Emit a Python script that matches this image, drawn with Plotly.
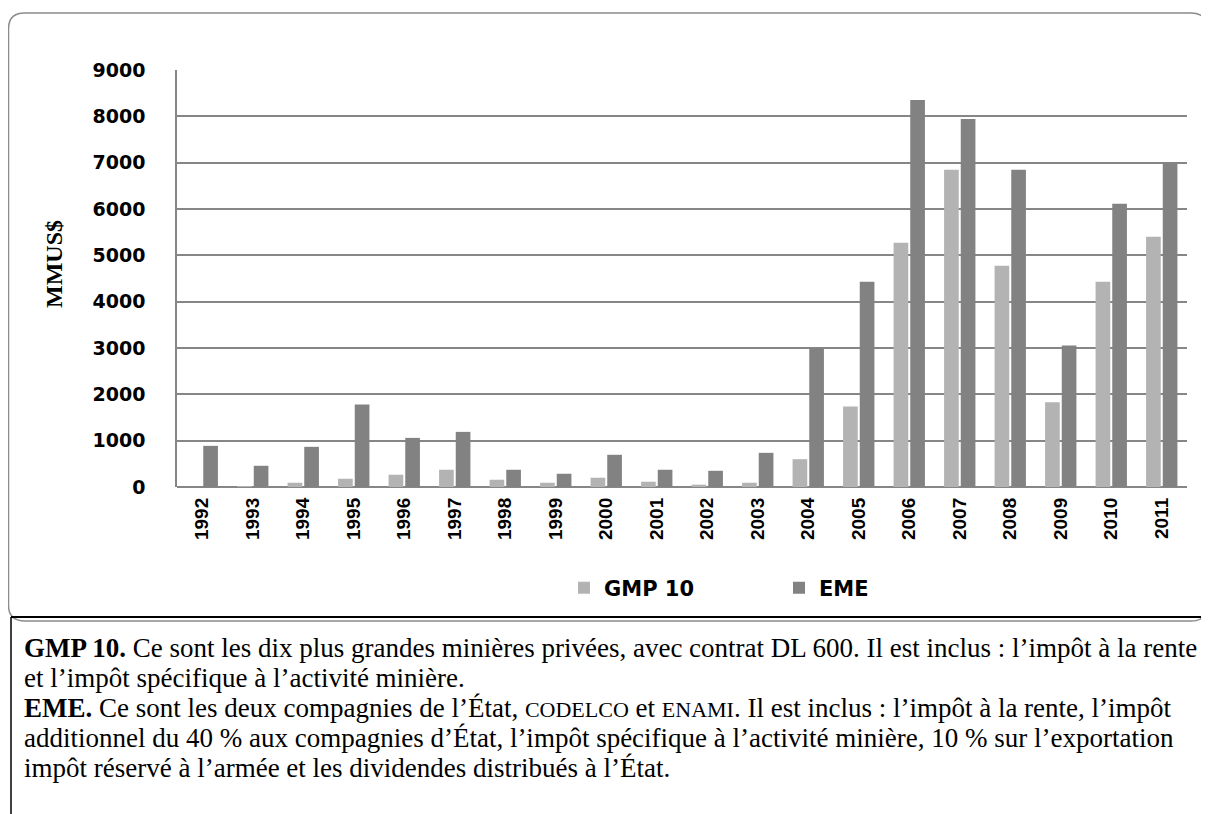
import plotly.graph_objects as go

years = ["1992", "1993", "1994", "1995", "1996", "1997", "1998", "1999", "2000", "2001",
         "2002", "2003", "2004", "2005", "2006", "2007", "2008", "2009", "2010", "2011"]
gmp10 = [0, 10, 92, 178, 265, 372, 157, 92, 200, 114,
         50, 92, 600, 1740, 5272, 6845, 4776, 1830, 4431, 5401]
eme = [888, 458, 867, 1780, 1060, 1190, 372, 286, 695, 372,
       350, 737, 3000, 4431, 8354, 7944, 6845, 3052, 6112, 7010]
ytick_vals = [0, 1000, 2000, 3000, 4000, 5000, 6000, 7000, 8000, 9000]
ytick_text = ["0", "1000", "2000", "3000", "4000", "5000", "6000", "7000", "8000", "9000"]
y_title = "MMUS$"

note_lines = [
    "<b>GMP 10.</b> Ce sont les dix plus grandes minières privées, avec contrat DL 600. Il est inclus : l’impôt à la rente",
    "et l’impôt spécifique à l’activité minière.",
    "<b>EME.</b> Ce sont les deux compagnies de l’État, <span style='font-size:22px'>CODELCO</span> et <span style='font-size:22px'>ENAMI</span>. Il est inclus : l’impôt à la rente, l’impôt",
    "additionnel du 40 % aux compagnies d’État, l’impôt spécifique à l’activité minière, 10 % sur l’exportation",
    "impôt réservé à l’armée et les dividendes distribués à l’État.",
]

# page has an 8px body margin: figure pixel = reference pixel - 8
OFF = 8
W, H = 1209 - OFF, 814 - OFF
L, R, T, B = 177 - OFF, 1187 - OFF, 70 - OFF, 487 - OFF


def px(x):
    return (x - OFF - L) / (R - L)


def py(y):
    return (B - (y - OFF)) / (B - T)


fig = go.Figure()
fig.add_trace(go.Bar(x=years, y=gmp10, name="GMP 10", marker_color="#b3b3b3", marker_line_width=0))
fig.add_trace(go.Bar(x=years, y=eme, name="EME", marker_color="#828282", marker_line_width=0))

# rounded chart frame (reference pixel coordinates)
x0, x1, y0, y1, r = 8.5, 1207, 13, 621, 16
path = (f"M {px(x0 + r)},{py(y0)} L {px(x1 - r)},{py(y0)} Q {px(x1)},{py(y0)} {px(x1)},{py(y0 + r)} "
        f"L {px(x1)},{py(y1 - r)} Q {px(x1)},{py(y1)} {px(x1 - r)},{py(y1)} "
        f"L {px(x0 + r)},{py(y1)} Q {px(x0)},{py(y1)} {px(x0)},{py(y1 - r)} "
        f"L {px(x0)},{py(y0 + r)} Q {px(x0)},{py(y0)} {px(x0 + r)},{py(y0)} Z")
shapes = [
    dict(type="path", xref="paper", yref="paper", path=path,
         line=dict(color="#8c8c8c", width=1.5), layer="below"),
    dict(type="line", xref="paper", yref="paper", x0=px(11), x1=px(1209), y0=py(617), y1=py(617),
         line=dict(color="#000000", width=2)),
    dict(type="line", xref="paper", yref="paper", x0=px(11), x1=px(11), y0=py(617), y1=py(814),
         line=dict(color="#000000", width=1.5)),
]

annotations = []
for i, line in enumerate(note_lines):
    annotations.append(dict(
        text=line, xref="paper", yref="paper", x=px(22), y=py(648 + 30 * i),
        xanchor="left", yanchor="middle", showarrow=False, align="left",
        font=dict(family="Liberation Serif, Times New Roman, serif", size=27, color="#000000"),
    ))
annotations.append(dict(
    text=y_title, xref="paper", yref="paper", x=px(54), y=py(264),
    xanchor="center", yanchor="middle", showarrow=False, textangle=-90,
    font=dict(family="Liberation Serif, Times New Roman, serif", size=24, color="#000000", weight="bold"),
))

fig.update_layout(
    width=W, height=H,
    margin=dict(l=L, r=W - R, t=T, b=H - B),
    paper_bgcolor="white", plot_bgcolor="white",
    barmode="group", bargap=0.34, bargroupgap=0.12,
    shapes=shapes, annotations=annotations,
    showlegend=True,
    legend=dict(orientation="h", x=px(771 + OFF), y=py(588), xanchor="center", yanchor="middle",
                font=dict(family="DejaVu Sans", size=21, color="#000000", weight="bold"),
                entrywidth=170, bgcolor="rgba(0,0,0,0)"),
    xaxis=dict(type="category", tickangle=-90, showgrid=False, showline=False, ticks="",
               ticklabelstandoff=6,
               tickfont=dict(family="Liberation Sans Narrow, Liberation Sans, Arial", size=19,
                             color="#000000", weight="bold")),
    yaxis=dict(range=[0, 9000], tickvals=ytick_vals, ticktext=ytick_text,
               showgrid=True, gridcolor="#868686", gridwidth=1.5,
               showline=True, linecolor="#868686", linewidth=1.5,
               zeroline=True, zerolinecolor="#868686", zerolinewidth=1.5,
               ticks="", ticklabelstandoff=26,
               tickfont=dict(family="DejaVu Sans", size=19, color="#000000", weight="bold")),
)

fig.write_html("out.html")
